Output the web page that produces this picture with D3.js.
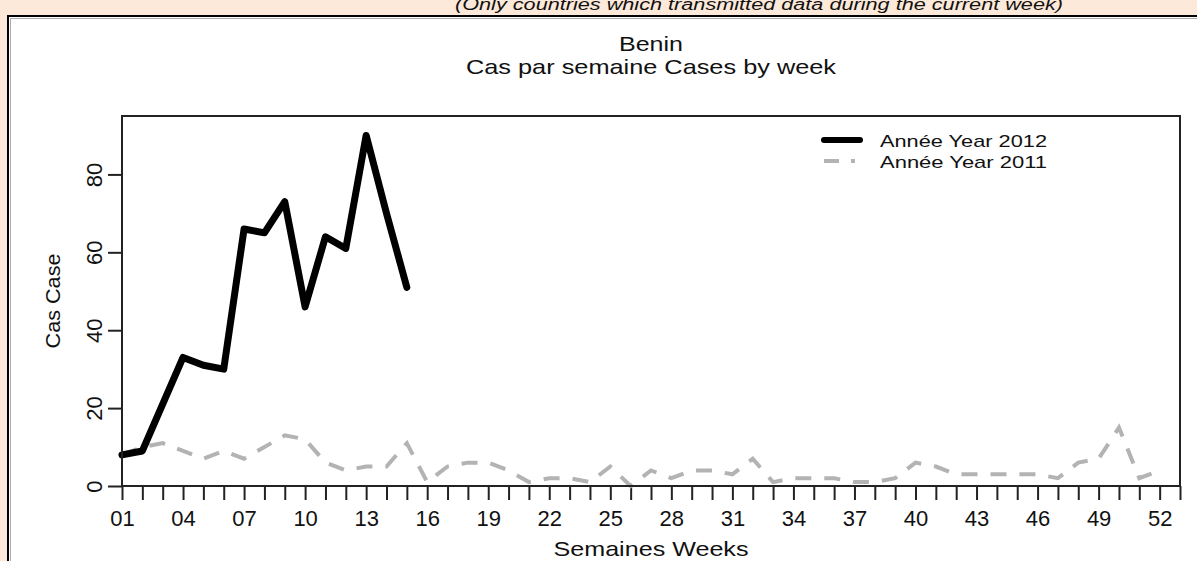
<!DOCTYPE html>
<html>
<head>
<meta charset="utf-8">
<script src="https://cdn.jsdelivr.net/npm/d3@7"></script>
<style>
  body { margin: 0; background: #fde9d9; overflow: hidden; }
  svg { display: block; font-family: "Liberation Sans", Arial, sans-serif; }
</style>
</head>
<body>
<svg id="chart" width="1197" height="561"></svg>
<script>
// weekly cases
const cases2012 = [8, 9, 21, 33, 31, 30, 66, 65, 73, 46, 64, 61, 90, 70, 51];
const cases2011 = [8, 10, 11, 9, 7, 9, 7, 10, 13, 12, 6, 4, 5, 5, 11, 1, 5, 6, 6, 4,
  1, 2, 2, 1, 5, 0, 4, 2, 4, 4, 3, 7, 1, 2, 2, 2, 1, 1, 2, 6,
  5, 3, 3, 3, 3, 3, 2, 6, 7, 15, 2, 4];
const yTicks = [0, 20, 40, 60, 80];
const labelWeeks = [1, 4, 7, 10, 13, 16, 19, 22, 25, 28, 31, 34, 37, 40, 43, 46, 49, 52];
const seriesNames = ["Année Year 2012", "Année Year 2011"];

const svg = d3.select("#chart");
const width = 1197, height = 561;
const margin = { top: 116, right: 17, bottom: 75, left: 122 };

// header note, partly hidden behind the panel
svg.append("text")
  .attr("x", 759).attr("y", 10)
  .attr("text-anchor", "middle")
  .attr("font-size", 16).attr("font-style", "italic")
  .attr("textLength", 608).attr("lengthAdjust", "spacingAndGlyphs")
  .attr("fill", "#111")
  .text("(Only countries which transmitted data during the current week)");

// white panel
svg.append("rect")
  .attr("x", 8).attr("y", 16).attr("width", 1200).attr("height", 560)
  .attr("fill", "#fff").attr("stroke", "#000").attr("stroke-width", 2);
svg.append("path")
  .attr("d", "M10.5,577V18.5H1200")
  .attr("fill", "none").attr("stroke", "#aaa").attr("stroke-width", 1);

let x = d3.scaleLinear().domain([1, 53]).range([margin.left, width - margin.right]);
let y = d3.scaleLinear().domain([0, 95]).range([height - margin.bottom, margin.top]);

// titles
svg.append("text")
  .attr("x", 651).attr("y", 51)
  .attr("text-anchor", "middle").attr("font-size", 21)
  .attr("textLength", 64).attr("lengthAdjust", "spacingAndGlyphs")
  .attr("fill", "#111").text("Benin");
svg.append("text")
  .attr("x", 651).attr("y", 74)
  .attr("text-anchor", "middle").attr("font-size", 21)
  .attr("textLength", 370).attr("lengthAdjust", "spacingAndGlyphs")
  .attr("fill", "#111").text("Cas par semaine Cases by week");

// x axis
let xAxis = svg.append("g")
  .attr("transform", `translate(0,${y(0)})`)
  .call(d3.axisBottom(x)
    .tickValues(d3.range(1, 54))
    .tickSize(14)
    .tickFormat((d) => labelWeeks.includes(d) ? d3.format("02")(d) : ""));
xAxis.select(".domain").remove();
xAxis.selectAll("line").attr("stroke", "#222").attr("stroke-width", 2);
xAxis.selectAll("text")
  .attr("y", 24).attr("dy", "0.71em")
  .attr("font-size", 22).attr("font-family", "Liberation Sans, Arial, sans-serif")
  .attr("fill", "#111");

// y axis
let yAxis = svg.append("g")
  .attr("transform", `translate(${x(1)},0)`)
  .call(d3.axisLeft(y).tickValues(yTicks).tickSize(14));
yAxis.select(".domain").remove();
yAxis.selectAll("line").attr("stroke", "#222").attr("stroke-width", 2);
yAxis.selectAll("text")
  .attr("x", null).attr("dy", null)
  .attr("text-anchor", "middle")
  .attr("transform", "translate(-20,0) rotate(-90)")
  .attr("font-size", 22).attr("font-family", "Liberation Sans, Arial, sans-serif")
  .attr("fill", "#111");

// axis titles
svg.append("text")
  .attr("x", 651).attr("y", 556)
  .attr("text-anchor", "middle").attr("font-size", 21)
  .attr("textLength", 195).attr("lengthAdjust", "spacingAndGlyphs")
  .attr("fill", "#111").text("Semaines Weeks");
svg.append("text")
  .attr("transform", `translate(60,${(y(0) + y(95)) / 2}) rotate(-90)`)
  .attr("text-anchor", "middle").attr("font-size", 21)
  .attr("textLength", 95).attr("lengthAdjust", "spacingAndGlyphs")
  .attr("fill", "#111").text("Cas Case");

// lines
let line = d3.line()
  .x((d, i) => x(i + 1))
  .y((d) => y(d));

svg.append("path")
  .datum(cases2011)
  .attr("d", line)
  .attr("fill", "none")
  .attr("stroke", "#b3b3b3")
  .attr("stroke-width", 4)
  .attr("stroke-dasharray", "16,13");

svg.append("path")
  .datum(cases2012)
  .attr("d", line)
  .attr("fill", "none")
  .attr("stroke", "#000")
  .attr("stroke-width", 7)
  .attr("stroke-linejoin", "round")
  .attr("stroke-linecap", "round");

// plot box
svg.append("rect")
  .attr("x", x(1)).attr("y", y(95))
  .attr("width", x(53) - x(1)).attr("height", y(0) - y(95))
  .attr("fill", "none").attr("stroke", "#222").attr("stroke-width", 2);

// legend
let legend = svg.append("g");
let legendStyles = [
  { color: "#000", width: 6, dash: null, cap: "round", end: 860 },
  { color: "#b3b3b3", width: 4, dash: "15,12", cap: "butt", end: 855 },
];
seriesNames.forEach((name, i) => {
  let ly = 140 + i * 21;
  legend.append("line")
    .attr("x1", 824).attr("x2", legendStyles[i].end)
    .attr("y1", ly).attr("y2", ly)
    .attr("stroke", legendStyles[i].color)
    .attr("stroke-width", legendStyles[i].width)
    .attr("stroke-linecap", legendStyles[i].cap)
    .attr("stroke-dasharray", legendStyles[i].dash);
  legend.append("text")
    .attr("x", 880).attr("y", ly + 7)
    .attr("font-size", 17)
    .attr("textLength", 167).attr("lengthAdjust", "spacingAndGlyphs")
    .attr("fill", "#111")
    .text(name);
});
</script>
</body>
</html>
